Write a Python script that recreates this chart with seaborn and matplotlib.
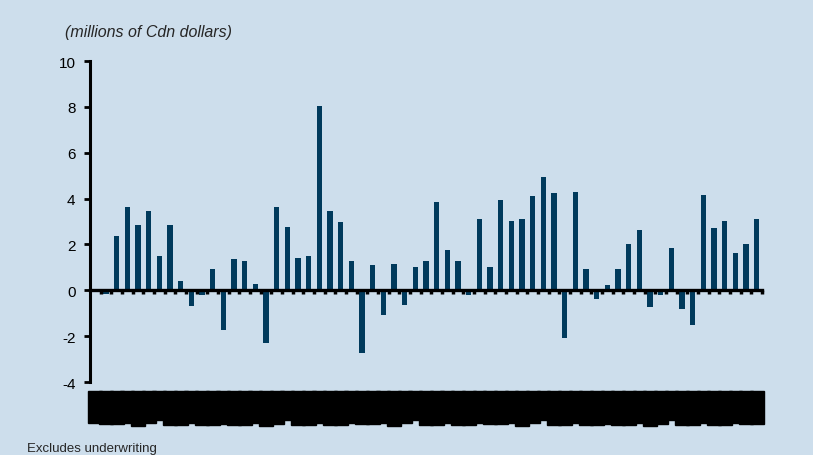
"""Monthly revenue bars (millions of Cdn dollars), excluding underwriting."""
import matplotlib
matplotlib.use("Agg")
import matplotlib.pyplot as plt
import pandas as pd
import seaborn as sns

# bar values, left to right
values = [
    0.05, -0.15, 2.35, 3.65, 2.87, 3.48, 1.48, 2.87, 0.39, -0.70,
    -0.20, 0.91, -1.74, 1.35, 1.26, 0.26, -2.29, 3.65, 2.74, 1.43,
    1.48, 8.05, 3.48, 2.96, 1.30, -2.75, 1.09, -1.09, 1.13, -0.65,
    1.00, 1.30, 3.83, 1.78, 1.30, -0.22, 3.13, 1.00, 3.96, 3.04,
    3.13, 4.13, 4.93, 4.26, -2.07, 4.30, 0.91, -0.38, 0.22, 0.91,
    2.00, 2.61, -0.72, -0.22, 1.83, -0.81, -1.51, 4.17, 2.70, 3.04,
    1.61, 2.04, 3.09,
]
# category labels (blacked out in the source)
months = list(pd.date_range("2005-01", periods=len(values), freq="MS").strftime("%b %y"))
y_ticks = [-4, -2, 0, 2, 4, 6, 8, 10]

BG = "#cddeec"
BAR = "#003a5c"

sns.set_theme(style="white")
plt.rcParams["font.family"] = ["Liberation Sans", "DejaVu Sans"]
plt.rcParams["axes.unicode_minus"] = False

fig = plt.figure(figsize=(8.13, 4.56), dpi=100, facecolor=BG)
ax = fig.add_axes([0.1107, 0.160, 0.8266, 0.704])
ax.set_facecolor(BG)

df = pd.DataFrame({"month": months, "value": values})
sns.barplot(data=df, x="month", y="value", color=BAR, saturation=1,
            width=0.52, linewidth=0, edgecolor=BAR, ax=ax, zorder=2)

ax.set_xlim(-0.5, len(values) - 0.5)
ax.set_ylim(-4, 10)
ax.set_yticks(y_ticks)
ax.set_xlabel("")
ax.set_ylabel("")

for s in ["top", "right", "bottom"]:
    ax.spines[s].set_visible(False)
ax.spines["left"].set_linewidth(2.2)
ax.spines["left"].set_color("black")

ax.tick_params(axis="y", direction="out", length=4.5, width=2, color="black",
               labelsize=11, pad=6, labelcolor="black", left=True)
ax.tick_params(axis="x", length=0, pad=7.5)
for lab in ax.get_xticklabels():
    lab.set_rotation(90)
    lab.set_fontsize(7)
    lab.set_color("black")
    lab.set_bbox(dict(facecolor="black", edgecolor="black", pad=1.3))

# zero line with small tick marks between bars, drawn over the bars
zero = ax.secondary_xaxis(4 / 14)
zero.set_zorder(5)
zero.spines["bottom"].set_linewidth(2.4)
zero.spines["bottom"].set_color("black")
bounds = [i + 0.5 for i in range(len(values))]
zero.set_xticks(bounds, labels=[""] * len(bounds))
zero.tick_params(direction="out", length=3, width=2.5, color="black")

fig.text(0.080, 0.928, "(millions of Cdn dollars)", fontsize=11.5,
         style="italic", va="center", ha="left")
fig.text(0.033, 0.016, "Excludes underwriting", fontsize=9.5,
         va="center", ha="left")

fig.savefig("out.png", dpi=100, facecolor=BG)
